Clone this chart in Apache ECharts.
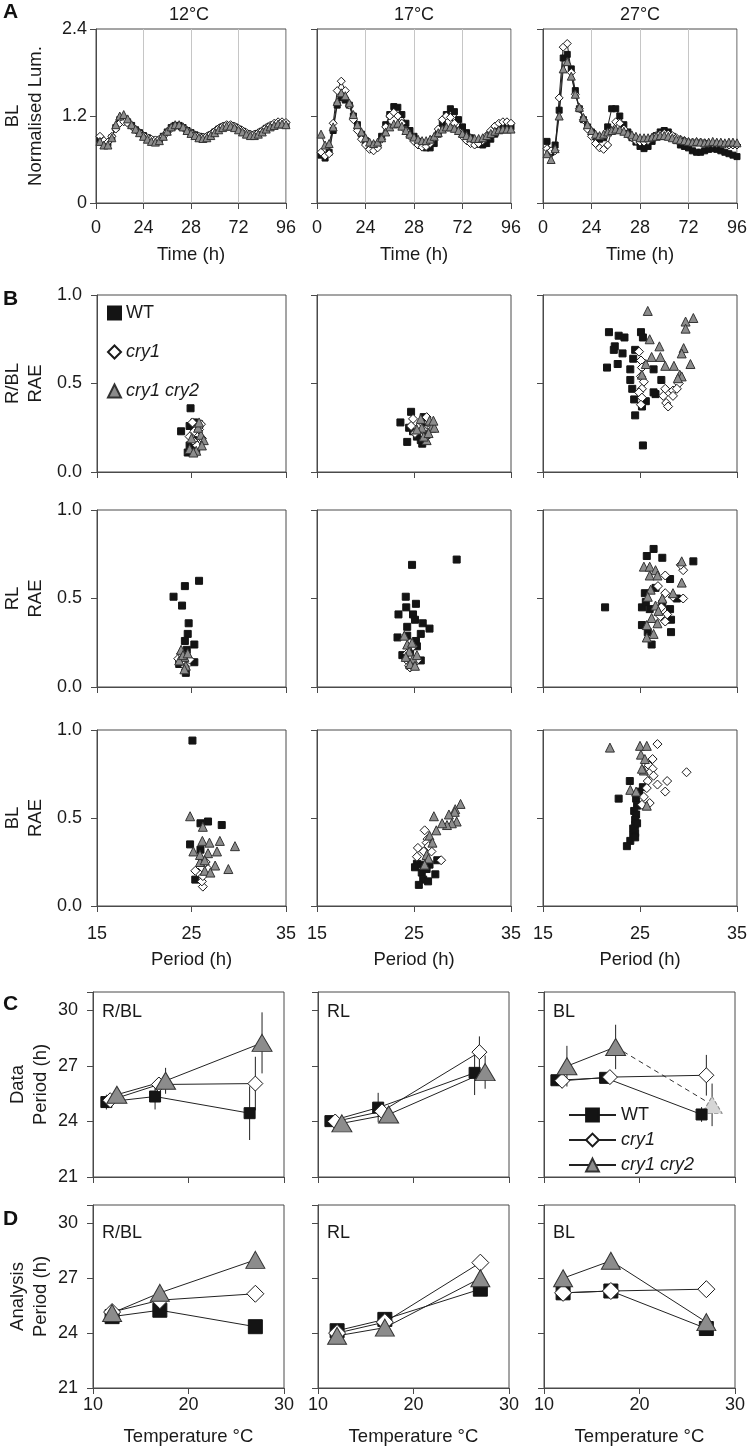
<!DOCTYPE html>
<html><head><meta charset="utf-8">
<script src="https://cdn.jsdelivr.net/npm/echarts@6/dist/echarts.min.js"></script>
<style>html,body{margin:0;padding:0;background:#fff}#c{width:750px;height:1449px}</style>
</head><body><div id="c"></div>
<script>
// ---------------- DATA ----------------
const genotypes = ['WT', 'cry1', 'cry1 cry2'];
const tempTitles = ['12°C', '17°C', '27°C'];
const lightLabels = ['R/BL', 'RL', 'BL'];
const timeTickLabels = ['0', '24', '28', '72', '96'];

// Panel A: normalised luminescence (time in h)
const times = [2,4,6,8,10,12,14,16,18,20,22,24,26,28,30,32,34,36,38,40,42,44,46,48,50,52,54,56,58,60,62,64,66,68,70,72,74,76,78,80,82,84,86,88,90,92,94,96];
const A12_WT   = [0.88,0.83,0.82,0.9,1.04,1.15,1.16,1.12,1.07,1.01,0.97,0.93,0.9,0.87,0.86,0.87,0.92,0.98,1.04,1.07,1.07,1.04,1.0,0.97,0.94,0.92,0.9,0.91,0.94,0.98,1.02,1.05,1.07,1.07,1.05,1.02,0.99,0.96,0.94,0.94,0.96,0.99,1.03,1.06,1.08,1.1,1.1,1.09];
const A12_cry1 = [0.92,0.86,0.84,0.92,1.02,1.1,1.12,1.1,1.06,1.01,0.97,0.93,0.9,0.88,0.87,0.88,0.92,0.98,1.03,1.06,1.06,1.04,1.0,0.97,0.94,0.92,0.91,0.92,0.95,0.99,1.03,1.06,1.08,1.08,1.06,1.03,1.0,0.97,0.95,0.95,0.97,1.0,1.04,1.07,1.1,1.12,1.12,1.11];
const A12_cry12= [0.85,0.8,0.8,0.9,1.08,1.2,1.22,1.16,1.08,1.02,0.97,0.92,0.88,0.85,0.84,0.86,0.92,0.99,1.05,1.08,1.08,1.05,1.0,0.96,0.93,0.9,0.89,0.9,0.93,0.97,1.01,1.04,1.06,1.06,1.04,1.01,0.98,0.95,0.93,0.93,0.95,0.98,1.02,1.05,1.07,1.09,1.09,1.08];
const A17_WT   = [0.66,0.62,0.7,1.0,1.35,1.45,1.42,1.35,1.2,1.08,0.95,0.86,0.78,0.76,0.8,0.92,1.08,1.22,1.33,1.32,1.22,1.1,1.0,0.92,0.85,0.8,0.76,0.76,0.82,0.95,1.1,1.22,1.3,1.26,1.15,1.05,0.97,0.9,0.85,0.81,0.8,0.82,0.88,0.95,1.0,1.03,1.05,1.05];
const A17_cry1 = [0.7,0.65,0.68,1.1,1.55,1.68,1.55,1.35,1.15,1.0,0.88,0.8,0.74,0.72,0.76,0.88,1.05,1.2,1.25,1.2,1.1,1.0,0.92,0.85,0.8,0.77,0.78,0.82,0.9,1.02,1.15,1.2,1.18,1.1,1.0,0.92,0.86,0.82,0.8,0.82,0.86,0.93,1.0,1.06,1.1,1.12,1.12,1.1];
const A17_cry12= [0.95,0.8,0.82,1.05,1.4,1.52,1.48,1.38,1.22,1.08,0.98,0.9,0.84,0.82,0.84,0.9,0.98,1.05,1.09,1.1,1.06,1.0,0.95,0.91,0.88,0.86,0.86,0.88,0.92,0.97,1.02,1.05,1.05,1.03,1.0,0.96,0.93,0.9,0.89,0.89,0.9,0.93,0.96,0.99,1.01,1.02,1.02,1.02];
const A27_WT   = [0.85,0.7,0.8,1.28,2.0,2.05,1.85,1.55,1.3,1.15,1.05,0.98,0.92,0.88,0.9,1.05,1.3,1.3,1.2,1.08,0.98,0.9,0.84,0.78,0.75,0.78,0.85,0.93,0.98,1.0,0.98,0.92,0.86,0.8,0.78,0.76,0.72,0.7,0.7,0.72,0.74,0.75,0.74,0.72,0.7,0.68,0.66,0.64];
const A27_cry1 = [0.75,0.72,0.72,1.45,2.15,2.2,1.8,1.5,1.3,1.15,1.02,0.92,0.82,0.76,0.74,0.8,1.0,1.12,1.1,1.02,0.95,0.9,0.86,0.84,0.84,0.86,0.9,0.93,0.95,0.96,0.95,0.93,0.9,0.88,0.86,0.84,0.84,0.84,0.84,0.83,0.82,0.82,0.82,0.82,0.81,0.8,0.8,0.8];
const A27_cry12= [0.68,0.6,0.75,1.2,1.85,1.95,1.75,1.5,1.32,1.18,1.08,1.0,0.95,0.93,0.95,0.98,1.0,1.02,1.01,0.99,0.96,0.94,0.92,0.9,0.9,0.9,0.91,0.92,0.93,0.93,0.92,0.9,0.88,0.87,0.86,0.85,0.84,0.85,0.84,0.83,0.84,0.85,0.84,0.84,0.83,0.84,0.84,0.83];

// Panel B: [period (h), RAE]
const B_RBL12_WT   = [[24.9,0.36],[23.9,0.23],[25.3,0.28],[24.6,0.11],[24.8,0.15],[25.2,0.18],[25.8,0.27],[24.8,0.26],[25.5,0.12]];
const B_RBL12_cry1 = [[25.3,0.23],[26.1,0.19],[25.3,0.17],[25.8,0.24],[24.8,0.2],[25.6,0.15],[26.0,0.27],[25.1,0.28]];
const B_RBL12_cry12= [[25.5,0.12],[24.8,0.13],[26.0,0.21],[26.3,0.18],[25.0,0.19],[25.7,0.25],[26.1,0.15],[25.2,0.11],[25.8,0.28]];
const B_RBL17_WT   = [[23.6,0.28],[24.3,0.17],[25.85,0.16],[24.7,0.34],[25.3,0.2],[26.2,0.28],[24.9,0.23],[26.3,0.21],[24.5,0.25],[25.7,0.18],[26.0,0.31]];
const B_RBL17_cry1 = [[24.9,0.3],[25.4,0.25],[26.5,0.28],[25.1,0.22],[25.9,0.24],[26.8,0.25],[24.7,0.26],[26.3,0.31]];
const B_RBL17_cry12= [[25.8,0.25],[26.6,0.29],[26.8,0.25],[26.3,0.18],[25.3,0.24],[27.1,0.25],[26.0,0.2],[26.5,0.22],[25.7,0.3],[27.0,0.29]];
const B_RBL27_WT   = [[21.8,0.79],[22.8,0.77],[23.4,0.76],[25.1,0.79],[25.3,0.76],[22.4,0.71],[22.3,0.69],[23.2,0.67],[24.5,0.69],[21.6,0.59],[22.7,0.61],[24.3,0.64],[24.0,0.58],[26.4,0.58],[24.0,0.52],[27.2,0.52],[24.2,0.47],[26.6,0.44],[24.4,0.41],[25.2,0.37],[24.5,0.32],[25.3,0.15],[25.6,0.4],[26.4,0.45]];
const B_RBL27_cry1 = [[24.9,0.68],[25.1,0.63],[25.2,0.59],[25.1,0.54],[25.4,0.51],[25.2,0.47],[24.9,0.45],[25.2,0.42],[25.1,0.38],[27.6,0.47],[28.4,0.46],[27.4,0.43],[28.4,0.43],[27.7,0.39],[27.9,0.37],[29.0,0.5],[28.8,0.47]];
const B_RBL27_cry12= [[25.8,0.91],[26.0,0.75],[27.0,0.71],[26.2,0.65],[27.1,0.65],[27.6,0.6],[28.5,0.6],[25.6,0.61],[25.2,0.55],[29.7,0.85],[30.5,0.87],[29.7,0.81],[29.5,0.7],[29.3,0.67],[30.2,0.61],[29.1,0.55],[29.3,0.54],[28.9,0.53]];
const B_RL12_WT    = [[25.8,0.6],[24.3,0.57],[23.1,0.51],[24.0,0.46],[24.7,0.36],[24.6,0.3],[24.3,0.26],[25.3,0.24],[24.5,0.21],[25.3,0.14],[24.4,0.08],[23.7,0.13]];
const B_RL12_cry1  = [[23.6,0.16],[24.1,0.14],[24.4,0.17],[23.9,0.19],[24.8,0.155],[24.35,0.115]];
const B_RL12_cry12 = [[23.9,0.21],[24.25,0.17],[23.7,0.15],[24.4,0.12],[24.1,0.18],[24.6,0.19],[24.25,0.1]];
const B_RL17_WT    = [[24.8,0.69],[29.4,0.72],[24.15,0.51],[25.2,0.47],[24.2,0.45],[23.4,0.41],[24.9,0.41],[25.1,0.38],[25.9,0.36],[26.6,0.33],[24.3,0.34],[25.7,0.3],[23.3,0.28],[24.3,0.29],[25.2,0.26],[25.3,0.23],[24.6,0.2],[23.8,0.18],[25.7,0.15],[24.6,0.12]];
const B_RL17_cry1  = [[24.5,0.12],[24.6,0.11],[24.2,0.155],[24.9,0.23],[24.3,0.19],[25.3,0.15]];
const B_RL17_cry12 = [[24.3,0.24],[24.5,0.2],[24.15,0.17],[24.9,0.16],[24.6,0.13],[25.3,0.18],[24.0,0.29],[24.8,0.25],[25.1,0.12]];
const B_RL27_WT    = [[21.4,0.45],[26.4,0.78],[25.7,0.74],[27.3,0.73],[30.5,0.71],[28.1,0.61],[25.2,0.45],[25.5,0.53],[25.6,0.48],[28.1,0.44],[28.8,0.5],[28.2,0.38],[25.2,0.35],[25.8,0.31],[28.2,0.31],[26.2,0.24],[26.6,0.56],[27.3,0.47],[26.0,0.44]];
const B_RL27_cry1  = [[27.6,0.63],[29.45,0.66],[29.2,0.69],[26.85,0.57],[27.6,0.53],[29.45,0.5],[28.4,0.51],[27.2,0.45],[27.8,0.41],[27.6,0.37],[27.1,0.4]];
const B_RL27_cry12 = [[25.4,0.68],[26.0,0.68],[26.6,0.66],[26.0,0.63],[26.8,0.63],[29.3,0.71],[29.3,0.59],[26.1,0.55],[25.8,0.51],[27.3,0.5],[28.4,0.53],[26.6,0.46],[26.9,0.43],[26.2,0.39],[26.8,0.36],[25.7,0.35],[26.4,0.3],[25.7,0.28]];
const B_BL12_WT    = [[25.1,0.94],[25.95,0.47],[26.75,0.48],[28.2,0.46],[24.85,0.35],[25.95,0.32],[25.4,0.15]];
const B_BL12_cry1  = [[26.2,0.11],[26.1,0.14],[25.7,0.19],[26.2,0.17],[26.75,0.21],[26.5,0.25],[25.4,0.2]];
const B_BL12_cry12 = [[24.85,0.51],[26.2,0.45],[26.15,0.37],[26.9,0.36],[28.0,0.37],[29.6,0.34],[25.2,0.31],[27.7,0.31],[26.75,0.3],[28.9,0.21],[27.5,0.23],[25.9,0.25],[26.4,0.2],[27.0,0.19],[25.9,0.29],[26.4,0.26]];
const B_BL17_WT    = [[25.3,0.24],[25.95,0.235],[26.6,0.235],[25.8,0.19],[27.2,0.18],[25.95,0.15],[26.45,0.14],[25.5,0.12],[26.3,0.21],[27.4,0.26],[25.1,0.22]];
const B_BL17_cry1  = [[26.1,0.43],[26.4,0.38],[25.4,0.33],[26.3,0.36],[26.8,0.31],[26.0,0.31],[27.8,0.26],[25.3,0.28],[26.5,0.34]];
const B_BL17_cry12 = [[29.8,0.58],[29.25,0.55],[29.2,0.535],[28.6,0.52],[29.4,0.48],[28.9,0.47],[28.4,0.46],[27.9,0.47],[27.05,0.51],[27.3,0.43],[26.6,0.4],[26.9,0.36],[26.3,0.29],[26.5,0.27],[26.1,0.235]];
const B_BL27_WT    = [[22.8,0.61],[23.95,0.71],[25.3,0.675],[24.9,0.65],[24.6,0.61],[24.7,0.57],[24.4,0.54],[24.6,0.52],[24.5,0.49],[24.5,0.46],[24.3,0.44],[24.5,0.415],[24.3,0.4],[24.0,0.37],[23.65,0.34],[24.5,0.39],[24.7,0.47]];
const B_BL27_cry1  = [[26.8,0.92],[26.3,0.835],[25.9,0.8],[26.3,0.78],[25.95,0.755],[26.4,0.74],[29.8,0.76],[27.8,0.71],[26.8,0.69],[25.8,0.71],[27.6,0.65],[25.7,0.67],[25.4,0.62],[26.0,0.585],[25.2,0.575]];
const B_BL27_cry12 = [[21.9,0.9],[25.0,0.91],[25.7,0.91],[25.1,0.86],[25.5,0.835],[25.4,0.77],[25.2,0.78],[24.0,0.66],[24.6,0.65],[25.7,0.57]];

// Panel C: data period [temperature (plotted, slightly offset), period, s.d.]
const C_RBL_WT   = [[11.4,25.05,0.4],[16.5,25.35,0.7],[26.4,24.45,1.45]];
const C_RBL_cry1 = [[11.8,25.15,0.2],[16.9,26.0,0.4],[27.0,26.05,1.45]];
const C_RBL_cry12= [[12.5,25.45,0.25],[17.6,26.2,0.7],[27.7,28.25,1.65]];
const C_RL_WT    = [[11.3,24.02,0.2],[16.3,24.75,0.8],[26.4,26.63,1.2]];
const C_RL_cry1  = [[11.8,24.0,0.2],[16.7,24.55,0.3],[26.9,27.75,0.85]];
const C_RL_cry12 = [[12.5,23.9,0.25],[17.4,24.38,0.3],[27.5,26.67,0.9]];
const C_BL_WT    = [[11.3,26.23,0.3],[16.4,26.36,0.2],[26.5,24.38,0.4]];
const C_BL_cry1  = [[11.9,26.2,0.4],[16.9,26.4,0.3],[27.0,26.5,1.1]];
const C_BL_cry12 = [[12.4,26.99,1.1],[17.5,28.03,1.2],[27.6,24.9,1.15]];

// Panel D: analysis period [temperature, period]
const D_RBL_WT   = [[12,24.9],[17,25.25],[27,24.35]];
const D_RBL_cry1 = [[12,25.15],[17,25.8],[27,26.15]];
const D_RBL_cry12= [[12,25.1],[17,26.2],[27,28.0]];
const D_RL_WT    = [[12,24.13],[17,24.75],[27,26.4]];
const D_RL_cry1  = [[12,24.0],[17,24.6],[27,27.85]];
const D_RL_cry12 = [[12,23.85],[17,24.3],[27,27.0]];
const D_BL_WT    = [[12,26.2],[17,26.3],[27,24.25]];
const D_BL_cry1  = [[12,26.2],[17,26.3],[27,26.4]];
const D_BL_cry12 = [[12,27.0],[17,27.95],[27,24.6]];

// ---------------- BUILD ----------------
const FF = '"Liberation Sans", Arial, Helvetica, sans-serif';
const TXT = '#1a1a1a', AX = '#4a4a4a';
const FS_TICK = 18, FS_NAME = 18.5;
const STY = {
  'WT':        {symbol:'rect',     fill:'#141414', stroke:'#141414'},
  'cry1':      {symbol:'diamond',  fill:'#ffffff', stroke:'#1a1a1a'},
  'cry1 cry2': {symbol:'triangle', fill:'#8c8c8c', stroke:'#333333'}
};
const SIZE_A = {'WT':6, 'cry1':8, 'cry1 cry2':8};
const SIZE_B = {'WT':7, 'cry1':9, 'cry1 cry2':9};
const SIZE_C = {'WT':11, 'cry1':15, 'cry1 cry2':[20,17]};
const SIZE_D = {'WT':14, 'cry1':17, 'cry1 cry2':[19,17]};

const grids = [], xAxes = [], yAxes = [], series = [], graphics = [];

function mkAxis(gi, o) {
  return {
    gridIndex: gi, type: 'value', min: o.min, max: o.max, interval: o.interval,
    axisLine: {show: true, onZero: false, lineStyle: {color: AX, width: 1}},
    axisTick: {show: true, inside: false, length: 6, lineStyle: {color: AX, width: 1}},
    axisLabel: {show: !!o.labels, formatter: o.fmt, margin: o.margin || 8, color: TXT, fontSize: FS_TICK, fontFamily: FF},
    splitLine: {show: !!o.split, lineStyle: {color: '#c6c6c6', width: 1}},
    name: o.name || '', nameLocation: 'middle', nameGap: o.nameGap || 30,
    nameTextStyle: {color: TXT, fontSize: FS_NAME, fontFamily: FF, lineHeight: 23}
  };
}
function addPanel(left, top, w, h, xo, yo) {
  const gi = grids.length;
  grids.push({left, top, width: w, height: h, show: true, borderColor: AX, borderWidth: 1, backgroundColor: 'rgba(0,0,0,0)'});
  xAxes.push(mkAxis(gi, xo));
  yAxes.push(mkAxis(gi, yo));
  return gi;
}
function zip(xsArr, ysArr) { return xsArr.map((x, i) => [x, ysArr[i]]); }
function lineS(gi, name, geno, data, sizes, extra) {
  const s = STY[geno];
  return Object.assign({
    type: 'line', name, xAxisIndex: gi, yAxisIndex: gi, data,
    symbol: s.symbol, symbolSize: sizes[geno], showSymbol: true, showAllSymbol: true,
    lineStyle: {color: '#222', width: 1},
    itemStyle: {color: s.fill, borderColor: s.stroke, borderWidth: 1},
    emphasis: {disabled: true}, z: 3
  }, extra || {});
}
function scatterS(gi, geno, data) {
  const s = STY[geno];
  return {type: 'scatter', name: geno, xAxisIndex: gi, yAxisIndex: gi, data,
    symbol: s.symbol, symbolSize: SIZE_B[geno],
    itemStyle: {color: s.fill, borderColor: s.stroke, borderWidth: 1, opacity: 1},
    emphasis: {disabled: true}};
}
function errS(gi, arrs) {
  const data = [];
  arrs.forEach(a => a.forEach(d => data.push([d[0], d[1] - d[2], d[1] + d[2]])));
  return {type: 'custom', xAxisIndex: gi, yAxisIndex: gi, data, z: 1, silent: true,
    renderItem: (params, api) => {
      const p1 = api.coord([api.value(0), api.value(1)]);
      const p2 = api.coord([api.value(0), api.value(2)]);
      return {type: 'line', shape: {x1: p1[0], y1: p1[1], x2: p2[0], y2: p2[1]}, style: {stroke: '#222', lineWidth: 1}};
    }};
}
function txt(x, y, text, font, align, valign) {
  graphics.push({type: 'text', x, y, silent: true,
    style: {text, font, fill: TXT, textAlign: align || 'center', textVerticalAlign: valign || 'middle'}});
}

const colL = [92, 317, 543], colW = 194;
const colLCD = [93, 318, 544], colWCD = 191;

// ---- Panel A ----
const A_sets = [[A12_WT, A12_cry1, A12_cry12], [A17_WT, A17_cry1, A17_cry12], [A27_WT, A27_cry1, A27_cry12]];
for (let c = 0; c < 3; c++) {
  const gi = addPanel(colL[c], 29, colW, 174,
    {min: 0, max: 96, interval: 24, labels: true, split: true, margin: 16,
     fmt: v => timeTickLabels[Math.round(v / 24)], name: 'Time (h)', nameGap: 40},
    {min: 0, max: 2.4, interval: 1.2, labels: c === 0, margin: 9,
     fmt: v => (v === 0 ? '0' : v.toFixed(1)), name: c === 0 ? 'BL\nNormalised Lum.' : '', nameGap: 49});
  genotypes.forEach((g, k) => series.push(lineS(gi, g + '·A', g, zip(times, A_sets[c][k]), SIZE_A)));
  txt(colL[c] + colW / 2, 15, tempTitles[c], '18px ' + FF);
}

// ---- Panel B ----
const B_sets = [
  [[B_RBL12_WT, B_RBL12_cry1, B_RBL12_cry12], [B_RBL17_WT, B_RBL17_cry1, B_RBL17_cry12], [B_RBL27_WT, B_RBL27_cry1, B_RBL27_cry12]],
  [[B_RL12_WT, B_RL12_cry1, B_RL12_cry12], [B_RL17_WT, B_RL17_cry1, B_RL17_cry12], [B_RL27_WT, B_RL27_cry1, B_RL27_cry12]],
  [[B_BL12_WT, B_BL12_cry1, B_BL12_cry12], [B_BL17_WT, B_BL17_cry1, B_BL17_cry12], [B_BL27_WT, B_BL27_cry1, B_BL27_cry12]]
];
const B_rows = [[295, 177], [510, 177], [730, 176]];
for (let r = 0; r < 3; r++) {
  for (let c = 0; c < 3; c++) {
    const gi = addPanel(colL[c], B_rows[r][0], colW, B_rows[r][1],
      {min: 15, max: 35, interval: 10, labels: r === 2, margin: 19, name: r === 2 ? 'Period (h)' : '', nameGap: 42},
      {min: 0, max: 1, interval: 0.5, labels: c === 0, margin: 15, fmt: v => v.toFixed(1),
       name: c === 0 ? lightLabels[r] + '\nRAE' : '', nameGap: 50});
    genotypes.forEach((g, k) => series.push(scatterS(gi, g, B_sets[r][c][k])));
  }
}

// ---- Panel C ----
const C_sets = [[C_RBL_WT, C_RBL_cry1, C_RBL_cry12], [C_RL_WT, C_RL_cry1, C_RL_cry12], [C_BL_WT, C_BL_cry1, C_BL_cry12]];
const yFmtP = v => (v === 31 ? '' : String(v));
for (let c = 0; c < 3; c++) {
  const gi = addPanel(colLCD[c], 992, colWCD, 185,
    {min: 10, max: 30, interval: 10, labels: false},
    {min: 21, max: 31, interval: 3, labels: c === 0, margin: 15, fmt: yFmtP,
     name: c === 0 ? 'Data\nPeriod (h)' : '', nameGap: 41});
  series.push(errS(gi, C_sets[c]));
  genotypes.forEach((g, k) => {
    const pts = C_sets[c][k].map(d => [d[0], d[1]]);
    if (c === 2 && g === 'cry1 cry2') {
      series.push(lineS(gi, g + '·C', g, pts.slice(0, 2), SIZE_C));
      series.push(lineS(gi, g + '·Cd', g, [
        {value: pts[1], symbol: 'none'},
        {value: pts[2], itemStyle: {color: '#d6d6d6', borderColor: '#8a8a8a', borderType: 'dashed', borderWidth: 1}}
      ], SIZE_C, {lineStyle: {color: '#333', width: 1, type: [5, 4]}, z: 2}));
    } else {
      series.push(lineS(gi, g + '·C', g, pts, SIZE_C));
    }
  });
  txt(colLCD[c] + 9, 1012, lightLabels[c], '18px ' + FF, 'left', 'middle');
}

// ---- Panel D ----
const D_sets = [[D_RBL_WT, D_RBL_cry1, D_RBL_cry12], [D_RL_WT, D_RL_cry1, D_RL_cry12], [D_BL_WT, D_BL_cry1, D_BL_cry12]];
for (let c = 0; c < 3; c++) {
  const gi = addPanel(colLCD[c], 1205, colWCD, 187,
    {min: 10, max: 30, interval: 10, labels: true, margin: 8, name: 'Temperature °C', nameGap: 37},
    {min: 21, max: 31, interval: 3, labels: c === 0, margin: 15, fmt: yFmtP,
     name: c === 0 ? 'Analysis\nPeriod (h)' : '', nameGap: 41});
  genotypes.forEach((g, k) => series.push(lineS(gi, g + '·D', g, D_sets[c][k], SIZE_D)));
  txt(colLCD[c] + 9, 1233, lightLabels[c], '18px ' + FF, 'left', 'middle');
}

// Panel letters
[['A', 3, 2], ['B', 3, 289], ['C', 3, 994], ['D', 3, 1209]].forEach(p => {
  graphics.push({type: 'text', left: p[1], top: p[2], silent: true,
    style: {text: p[0], font: 'bold 21px ' + FF, fill: '#111'}});
});

const option = {
  animation: false,
  backgroundColor: '#ffffff',
  textStyle: {fontFamily: FF},
  grid: grids, xAxis: xAxes, yAxis: yAxes, series,
  legend: [
    {left: 107, top: 304, padding: 0, orient: 'vertical', itemWidth: 13, itemHeight: 13, itemGap: 21, selectedMode: false,
     textStyle: {color: TXT, fontSize: 18, fontFamily: FF},
     data: [{name: 'WT'}, {name: 'cry1', textStyle: {fontStyle: 'italic'}}, {name: 'cry1 cry2', textStyle: {fontStyle: 'italic'}}]},
    {left: 568, top: 1106, padding: 0, orient: 'vertical', itemWidth: 47, itemHeight: 16, itemGap: 7, selectedMode: false,
     textStyle: {color: TXT, fontSize: 18, fontFamily: FF},
     formatter: n => n.replace('·C', ''),
     data: [{name: 'WT·C'}, {name: 'cry1·C', textStyle: {fontStyle: 'italic'}}, {name: 'cry1 cry2·C', textStyle: {fontStyle: 'italic'}}]}
  ],
  graphic: graphics
};
const chart = echarts.init(document.getElementById('c'), null, {renderer: 'canvas'});
chart.setOption(option);
</script></body></html>
